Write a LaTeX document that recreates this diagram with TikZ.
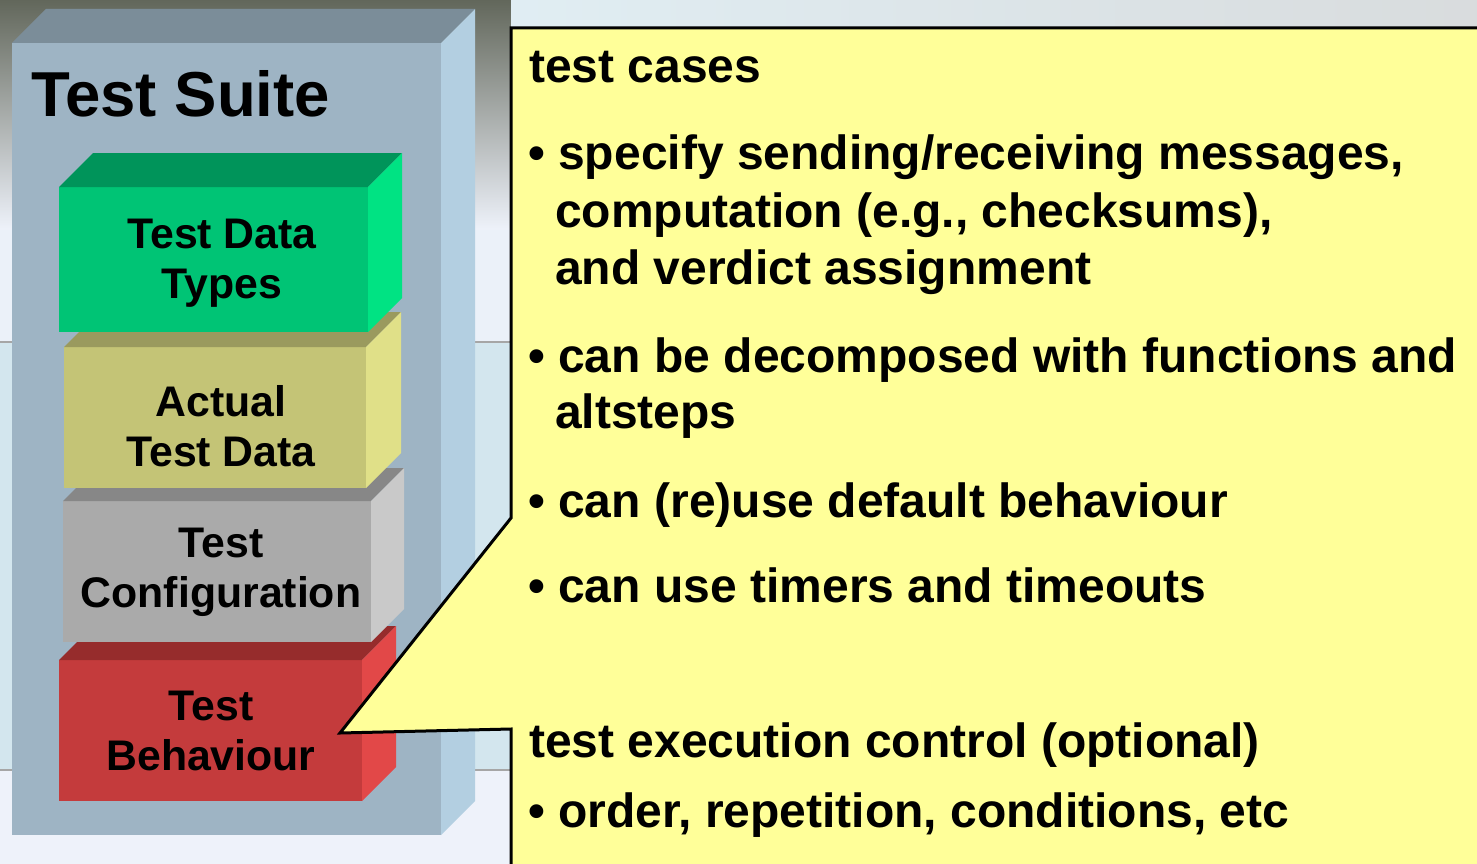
\documentclass[tikz,border=0pt]{standalone}
\usepackage{fontspec}
\setmainfont{Liberation Sans}
\usetikzlibrary{positioning,calc}
\definecolor{suitefront}{HTML}{9EB4C4}
\definecolor{suitetop}{HTML}{7B8D99}
\definecolor{suiteside}{HTML}{B3CFE1}
\definecolor{typesfront}{HTML}{00C475}
\definecolor{typestop}{HTML}{00945A}
\definecolor{typesside}{HTML}{00E383}
\definecolor{datafront}{HTML}{C4C476}
\definecolor{datatop}{HTML}{9A9A5E}
\definecolor{dataside}{HTML}{E0E088}
\definecolor{configfront}{HTML}{AAAAAA}
\definecolor{configtop}{HTML}{878787}
\definecolor{configside}{HTML}{C9C9C9}
\definecolor{behavfront}{HTML}{C43B3C}
\definecolor{behavtop}{HTML}{962C2C}
\definecolor{behavside}{HTML}{E24848}
\definecolor{notepop}{HTML}{FFFF99}
\definecolor{skypop}{HTML}{D3E6EE}
\definecolor{paperpop}{HTML}{EEF2FA}
\definecolor{olivepop}{HTML}{62675B}

\begin{document}
\begin{tikzpicture}[x=1pt,y=-1pt,
  lbl/.style={align=center, inner sep=0pt, font=\fontsize{42.8}{50}\selectfont\bfseries},
  txt/.style={anchor=base west, inner sep=0pt, font=\fontsize{48}{58}\selectfont\bfseries},
  callout/.style={fill=notepop, draw=black, line width=3pt, line join=miter},
  bgline/.style={draw=black!35, line width=1.2pt}]
\useasboundingbox (0,0) rectangle (1477,864);
\clip (0,0) rectangle (1477,864);
% background of the slide
\fill[paperpop] (0,0) rectangle (1477,864);
\fill[skypop] (0,342) rectangle (1477,770);
\shade[top color=olivepop, bottom color=paperpop] (0,0) rectangle (511,230);
\fill[paperpop!90!skypop] (0,230) rectangle (511,342);
\shade[left color=skypop!70!white, right color=skypop!60!black!30!white] (511,0) rectangle (1477,40);
\draw[bgline] (0,342) -- (511,342);
\draw[bgline] (0,770) -- (511,770);
% suite box and the blocks, bottom first
\foreach \xa/\ya/\xb/\yb/\d/\c in {12/43/441/835/34/suite, 59/660/362/801/34/behav,
    63/501/371/642/33/config, 64/347/366/488/35/data, 59/187/368/332/34/types}{
  \fill[fill=\c front] (\xa,\ya) rectangle (\xb,\yb);
  \fill[fill=\c top] (\xa,\ya) -- ++(\d,-\d) -- (\xb+\d,\ya-\d) -- (\xb,\ya) -- cycle;
  \fill[fill=\c side] (\xb,\ya) -- (\xb+\d,\ya-\d) -- (\xb+\d,\yb-\d) -- (\xb,\yb) -- cycle;
}
\node[anchor=base west, inner sep=0pt, font=\fontsize{63.5}{70}\selectfont\bfseries] (suite) at (31,117) {Test Suite};
\node[lbl] (types) at (222,263.5) {Test Data\\Types};
\node[lbl] (data) at (221,426) {Actual\\Test Data};
\node[lbl] (config) at (221,572.5) {Test\\Configuration};
\node[lbl] (behav) at (211,731) {Test\\Behaviour};
% callout pointing at the behaviour block
\coordinate (tip) at (340,733);
\filldraw[callout] (511,28) -- (1500,28) -- (1500,880) -- (511,880) -- (511,729) -- (tip) -- (511,518) -- cycle;
\node[txt] (cases) at (529,83) {test cases};
\node[txt] (spec) at (528,169) {• specify sending/receiving messages,};
\node[txt] (specb) at (555,227) {computation (e.g., checksums),};
\node[txt] (specc) at (555,284) {and verdict assignment};
\node[txt] (decomp) at (528,372) {• can be decomposed with functions and};
\node[txt] (decompb) at (555,428) {altsteps};
\node[txt] (reuse) at (528,517) {• can (re)use default behaviour};
\node[txt] (timers) at (528,602) {• can use timers and timeouts};
\node[txt] (exec) at (529,757) {test execution control (optional)};
\node[txt] (order) at (528,827) {• order, repetition, conditions, etc};
\end{tikzpicture}
\end{document}
